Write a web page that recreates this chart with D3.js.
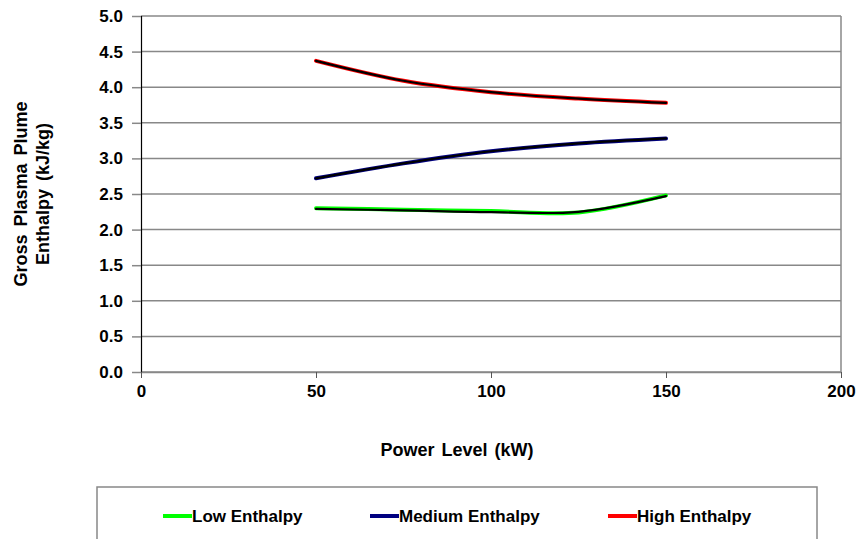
<!DOCTYPE html>
<html>
<head>
<meta charset="utf-8">
<script src="https://cdn.jsdelivr.net/npm/d3@7"></script>
<style>
  body { margin: 0; background: #fff; }
  text { font-family: "Liberation Sans", Arial, sans-serif; font-weight: bold; }
</style>
</head>
<body>
<svg id="chart" width="865" height="539"></svg>
<script>
// power levels (kW)
var power = [50, 75, 100, 125, 150];

// enthalpy series (kJ/kg)
var lowEnthalpy = [2.30, 2.28, 2.26, 2.24, 2.48];
var medEnthalpy = [2.72, 2.93, 3.10, 3.21, 3.28];
var highEnthalpy = [4.37, 4.09, 3.93, 3.84, 3.78];

// black overlay curves drawn on top of each series
var lowFit = [2.29, 2.27, 2.245, 2.25, 2.47];
var medFit = [2.72, 2.93, 3.10, 3.21, 3.28];
var highFit = [4.37, 4.09, 3.93, 3.84, 3.78];

var xTicks = [0, 50, 100, 150, 200];
var yTicks = [0, 0.5, 1, 1.5, 2, 2.5, 3, 3.5, 4, 4.5, 5];

var seriesNames = ['Low Enthalpy', 'Medium Enthalpy', 'High Enthalpy'];
var seriesColors = ['#00ff00', '#000080', '#ff0000'];

var LEFT = 141, RIGHT = 841, TOP = 16, BOTTOM = 372;

var svg = d3.select('#chart');

var xScale = d3.scaleLinear().domain([0, 200]).range([LEFT, RIGHT]);
var yScale = d3.scaleLinear().domain([0, 5]).range([BOTTOM, TOP]);

// gridlines
svg.append('g').selectAll('line')
  .data(yTicks)
  .enter()
  .append('line')
  .attr('x1', LEFT).attr('x2', RIGHT)
  .attr('y1', function(d){ return yScale(d); })
  .attr('y2', function(d){ return yScale(d); })
  .attr('stroke', '#888').attr('stroke-width', 1.5);

// right border
svg.append('line')
  .attr('x1', RIGHT).attr('x2', RIGHT).attr('y1', TOP).attr('y2', BOTTOM)
  .attr('stroke', '#888').attr('stroke-width', 1.5);

var leftAxis = d3.axisLeft(yScale).tickValues(yTicks).tickSize(9).tickFormat(d3.format('.1f'));
var gy = svg.append('g').attr('transform', 'translate(' + LEFT + ',0)').call(leftAxis);
gy.select('.domain').attr('stroke', '#000').attr('stroke-width', 1.2);
gy.selectAll('.tick line').attr('stroke', '#888').attr('stroke-width', 1.5);
gy.selectAll('.tick text').attr('font-size', 17).attr('fill', '#000').attr('x', -18)
  .style('font-family', '"Liberation Sans", Arial, sans-serif').style('font-weight', 'bold');

var bottomAxis = d3.axisBottom(xScale).tickValues(xTicks).tickSize(6).tickSizeOuter(0);
var gx = svg.append('g').attr('transform', 'translate(0,' + BOTTOM + ')').call(bottomAxis);
gx.select('.domain').attr('stroke', '#888').attr('stroke-width', 1.5);
gx.selectAll('.tick line').attr('stroke', '#555');
gx.selectAll('.tick text').attr('font-size', 17).attr('fill', '#000').attr('y', 13)
  .style('font-family', '"Liberation Sans", Arial, sans-serif').style('font-weight', 'bold');

// axis titles
svg.append('text')
  .attr('x', 457).attr('y', 456)
  .attr('text-anchor', 'middle').attr('font-size', 18)
  .attr('word-spacing', 2)
  .text('Power Level (kW)');

var yt = svg.append('text')
  .attr('transform', 'translate(0,194) rotate(-90)')
  .attr('text-anchor', 'middle').attr('font-size', 18)
  .attr('word-spacing', 3);
yt.append('tspan').attr('x', 0).attr('y', 27).text('Gross Plasma Plume');
yt.append('tspan').attr('x', 0).attr('y', 49).text('Enthalpy (kJ/kg)');

// lines
var line = d3.line()
  .x(function(d){ return xScale(d[0]); })
  .y(function(d){ return yScale(d[1]); })
  .curve(d3.curveCatmullRom);

var seriesData = [lowEnthalpy, medEnthalpy, highEnthalpy];
var fitData = [lowFit, medFit, highFit];

seriesData.forEach(function(vals, i){
  svg.append('path')
    .datum(power.map(function(p, j){ return [p, vals[j]]; }))
    .attr('d', line)
    .attr('fill', 'none')
    .attr('stroke', seriesColors[i])
    .attr('stroke-width', 4)
    .attr('stroke-linecap', 'round');
});

fitData.forEach(function(vals){
  svg.append('path')
    .datum(power.map(function(p, j){ return [p, vals[j]]; }))
    .attr('d', line)
    .attr('fill', 'none')
    .attr('stroke', '#000')
    .attr('stroke-width', 2.2)
    .attr('stroke-linecap', 'round');
});

// legend
svg.append('rect')
  .attr('x', 97).attr('y', 487).attr('width', 720).attr('height', 70)
  .attr('fill', '#fff').attr('stroke', '#888').attr('stroke-width', 1.5);

var legendX = [163, 370, 608];
seriesNames.forEach(function(name, i){
  svg.append('line')
    .attr('x1', legendX[i]).attr('x2', legendX[i] + 29)
    .attr('y1', 516).attr('y2', 516)
    .attr('stroke', seriesColors[i]).attr('stroke-width', 4);
  svg.append('text')
    .attr('x', legendX[i] + 29).attr('y', 522)
    .attr('font-size', 17)
    .text(name);
});
</script>
</body>
</html>
